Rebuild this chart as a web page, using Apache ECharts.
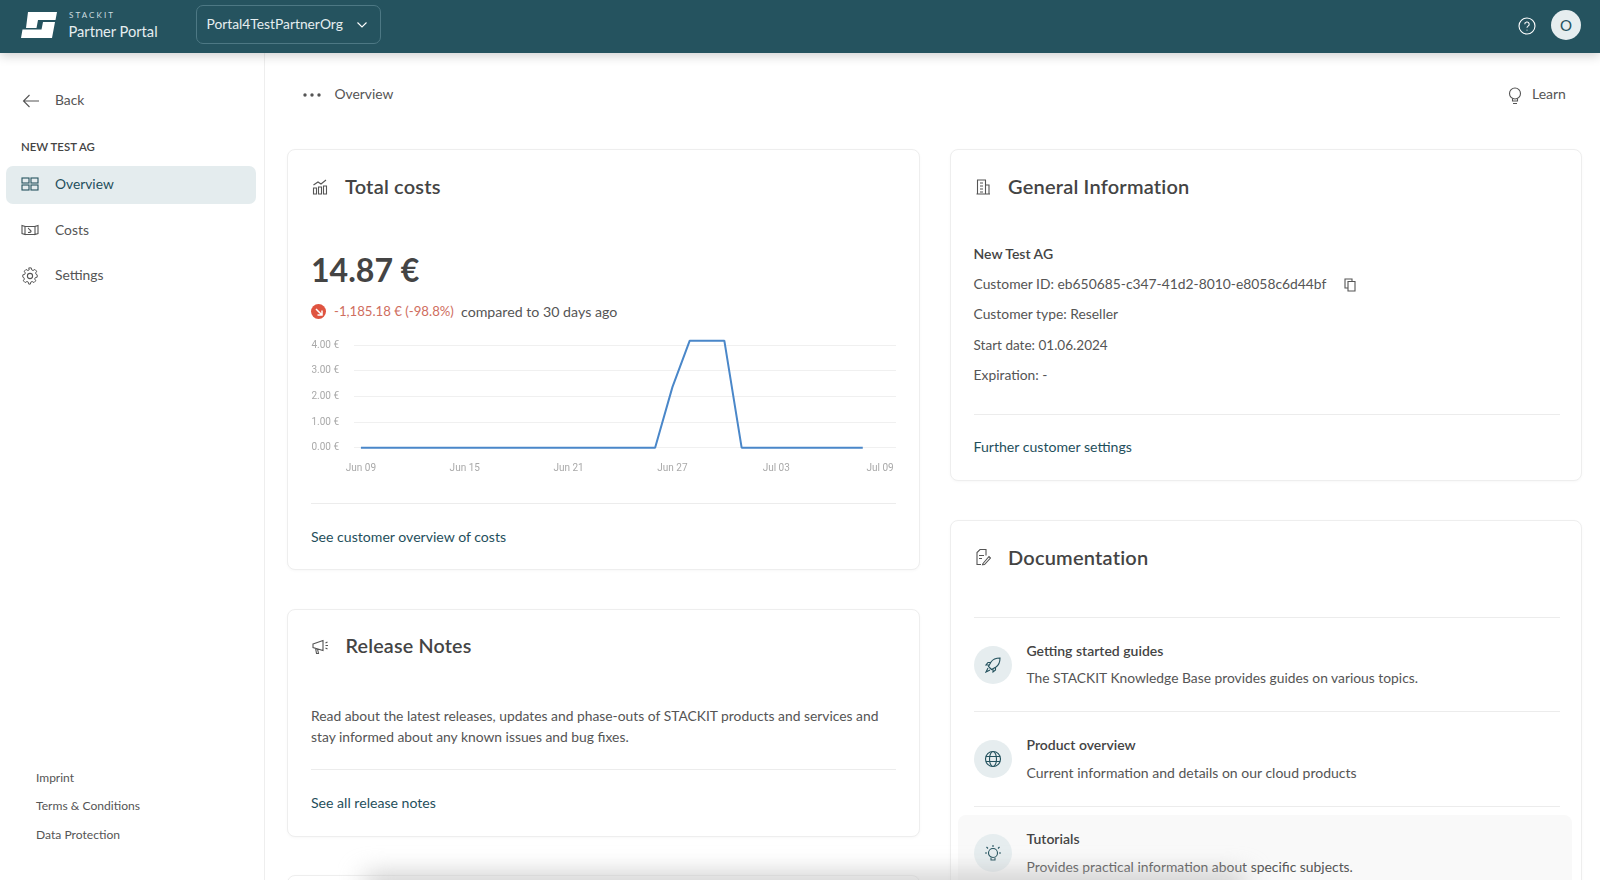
<!DOCTYPE html>
<html>
<head>
<meta charset="utf-8">
<title>Partner Portal</title>
<script src="https://cdn.jsdelivr.net/npm/echarts@6/dist/echarts.min.js"></script>
<style>
html, body { margin: 0; padding: 0; width: 1600px; height: 880px; overflow: hidden; background: #fff; }
body { font-family: Lato, "Noto Sans", sans-serif; color: #555; font-size: 13.85px; position: relative; }
.t { position: absolute; white-space: nowrap; transform: translateY(-50%); line-height: 1.2; }
.box { position: absolute; box-sizing: border-box; }
.card { position: absolute; box-sizing: border-box; background: #fff; border: 1px solid #eeeeee; border-radius: 8px; box-shadow: 0 1px 3px rgba(0,0,0,0.03); }
.title { font-size: 20px; font-weight: 600; color: #444; letter-spacing: 0.2px; }
.link { color: #1f4f5c; font-size: 14.1px; }
.b { font-weight: 600; color: #444; font-size: 14px; }
.rule { position: absolute; height: 1px; background: #ececec; }
.ico { position: absolute; transform: translate(-50%, -50%); fill: none; stroke: #555; stroke-width: 1.1; }
.circ { position: absolute; width: 38px; height: 38px; border-radius: 50%; background: #e6edef; transform: translate(-50%, -50%); }
#chart { position: absolute; left: 291px; top: 326px; width: 630px; height: 165px; }
</style>
</head>
<body>

<div class="box" style="left:0;top:0;width:1600px;height:53px;background:#25535f;box-shadow:0 3px 10px rgba(0,0,0,0.18);z-index:3"></div>
<div style="position:absolute;left:0;top:0;width:1600px;height:53px;z-index:4;color:#fff">
  <svg style="position:absolute;left:0;top:0" width="64" height="50" viewBox="0 0 64 50"><path fill="#fff" d="M28 12H57L55.500 20H38L36.500 28H26ZM43 22H55L52 38H21L22.500 29.500H41.500Z"/></svg>
  <div class="t" style="left:69px;top:16px;font-size:8px;letter-spacing:2.1px;color:#cfdde0">STACKIT</div>
  <div class="t" style="left:68.500px;top:32px;font-size:14.650px;color:#e6eef0">Partner Portal</div>
  <div class="box" style="left:196px;top:5px;width:185px;height:39px;border:1px solid #4d7884;border-radius:7px"></div>
  <div class="t" style="left:206.500px;top:24px;font-size:13.800px;color:#e6eef0">Portal4TestPartnerOrg</div>
  <svg class="ico" style="left:362px;top:25px;stroke:#fff" width="12" height="8" viewBox="0 0 12 8"><path d="M1.500 1.500L6 6L10.500 1.500"/></svg>
  <svg class="ico" style="left:1527px;top:26px;stroke:#fff" width="18" height="18" viewBox="0 0 18 18"><circle cx="9" cy="9" r="8"/><path d="M6.800 7.200a2.200 2.200 0 1 1 3.300 1.900c-.8.5-1.100.9-1.100 1.700"/><path d="M9 12.800v.8"/></svg>
  <div style="position:absolute;left:1551px;top:10px;width:30px;height:30px;border-radius:50%;background:#e6edef"></div>
  <div class="t" style="left:1566px;top:24.500px;transform:translate(-50%,-50%);font-size:15px;color:#25535f">O</div>
</div>

<!-- sidebar -->
<div class="box" style="left:264px;top:53px;width:1px;height:827px;background:#eeeeee"></div>
<svg class="ico" style="left:31px;top:100.500px" width="18" height="14" viewBox="0 0 18 14"><path d="M17 7H1.500M7.500 1L1.500 7L7.500 13"/></svg>
<div class="t" style="left:55px;top:100px">Back</div>
<div class="t" style="left:21px;top:147px;font-size:11.400px;font-weight:600;color:#444">NEW TEST AG</div>
<div class="box" style="left:5.500px;top:165.500px;width:250.500px;height:38px;background:#e4ecee;border-radius:7px"></div>
<svg class="ico" style="left:30px;top:184px;stroke:#25535f" width="18" height="14" viewBox="0 0 18 14"><rect x="1" y="1" width="7" height="5"/><rect x="10" y="1" width="7" height="5"/><rect x="1" y="8" width="7" height="5"/><rect x="10" y="8" width="7" height="5"/></svg>
<div class="t link" style="left:55px;top:184px;font-size:13.800px">Overview</div>
<svg class="ico" style="left:30px;top:230px" width="18" height="12" viewBox="0 0 18 12"><path d="M1 1.500l3 1v8l-3-1zM17 1.500l-3 1v8l3-1zM4 2.500h10v8H4zM7 8.500c3 0 4-1 2-2.500s-1-2-2-1.500"/></svg>
<div class="t" style="left:55px;top:229.500px">Costs</div>
<svg class="ico" style="left:30px;top:275.500px" width="18" height="18" viewBox="0 0 18 18"><circle cx="9" cy="9" r="2.600"/><path d="M7.600 1h2.800l.5 2.200 1.500.7 2-1.200 2 2-1.200 2 .7 1.500L17 8.700v2.600l-2.100.5-.7 1.500 1.200 2-2 2-2-1.200-1.500.7-.5 2.200H7.600l-.5-2.200-1.500-.7-2 1.200-2-2 1.200-2-.7-1.500L1 11.300V8.700l2.100-.5.7-1.500-1.200-2 2-2 2 1.200 1.500-.7z" transform="translate(0.900 0.900) scale(0.9 0.9) translate(0 -1)"/></svg>
<div class="t" style="left:55px;top:275px">Settings</div>
<div class="t" style="left:36px;top:777.500px;font-size:12px">Imprint</div>
<div class="t" style="left:36px;top:806px;font-size:12.100px">Terms &amp; Conditions</div>
<div class="t" style="left:36px;top:835px;font-size:12.100px">Data Protection</div>

<!-- breadcrumb -->
<svg class="ico" style="left:312px;top:95px;fill:#555;stroke:none" width="18" height="4" viewBox="0 0 18 4"><circle cx="2" cy="2" r="1.700"/><circle cx="9" cy="2" r="1.700"/><circle cx="16" cy="2" r="1.700"/></svg>
<div class="t" style="left:334.500px;top:94px">Overview</div>
<svg class="ico" style="left:1515px;top:96px" width="14" height="18" viewBox="0 0 14 18"><circle cx="7" cy="6.500" r="5.500"/><path d="M4.500 11.500v2.500h5v-2.500M5 16.500h4"/></svg>
<div class="t" style="left:1532px;top:94px;font-size:14px">Learn</div>

<!-- total costs -->
<div class="card" style="left:287px;top:149px;width:633px;height:421px"></div>
<svg class="ico" style="left:320px;top:187px" width="16" height="16" viewBox="0 0 16 16" stroke-width="1.100"><path d="M1.500 15h3V9h-3zM6.500 15h3V8h-3zM11.500 15h3V7h-3zM1.500 6L6 3l3 2L14 1"/></svg>
<div class="t title" style="left:345px;top:186px">Total costs</div>
<div class="t" style="left:311px;top:270px;font-size:32.100px;font-weight:700;color:#444">14.87 €</div>
<div style="position:absolute;left:311px;top:304px;width:15px;height:15px;border-radius:50%;background:#df5440"></div>
<svg class="ico" style="left:318.500px;top:311.500px;stroke:#fff;stroke-width:1.500" width="8" height="8" viewBox="0 0 8 8"><path d="M1 1L7 7M7 2.500V7H2.500"/></svg>
<div class="t" style="left:334px;top:312px;font-size:13.200px;color:#cf6e60">-1,185.18 € (-98.8%)</div>
<div class="t" style="left:461px;top:312px;font-size:14.200px">compared to 30 days ago</div>
<div id="chart"></div>
<div class="rule" style="left:311px;top:503px;width:585px"></div>
<div class="t link" style="left:311px;top:536.500px">See customer overview of costs</div>

<!-- release notes -->
<div class="card" style="left:287px;top:609px;width:633px;height:228px"></div>
<svg class="ico" style="left:320.500px;top:647px" width="18" height="15" viewBox="0 0 18 15"><path d="M1 4.500L11 1v10L1 8zM3.500 8.500L4.500 14h2L5.500 9.500M13.500 3.500l2-1M13.500 6h2.500M13.500 8.500l2 1"/></svg>
<div class="t title" style="left:345.500px;top:646px;font-size:19.700px">Release Notes</div>
<div class="t" style="left:311px;top:716px">Read about the latest releases, updates and phase-outs of STACKIT products and services and</div>
<div class="t" style="left:311px;top:737px">stay informed about any known issues and bug fixes.</div>
<div class="rule" style="left:311px;top:769px;width:585px"></div>
<div class="t link" style="left:311px;top:803px">See all release notes</div>

<!-- next card, cut off by the window -->
<div class="card" style="left:287px;top:875px;width:633px;height:100px"></div>

<!-- general information -->
<div class="card" style="left:950px;top:149px;width:632px;height:332px"></div>
<svg class="ico" style="left:983px;top:187px" width="15" height="16" viewBox="0 0 15 16" stroke-width="1.100"><path d="M2 15V1h8v14M10 6h3.500v9M1 15h13.500M4.500 4h3M4.500 7h3M4.500 10h3M4.500 13h3"/></svg>
<div class="t title" style="left:1008px;top:186px">General Information</div>
<div class="t b" style="left:973.500px;top:254px">New Test AG</div>
<div class="t" style="left:973.500px;top:284px">Customer ID: eb650685-c347-41d2-8010-e8058c6d44bf</div>
<svg class="ico" style="left:1350px;top:284.500px" width="12" height="14" viewBox="0 0 12 14"><path d="M8 3V1H1v9h3M4 3.500h7V13H4z"/></svg>
<div class="t" style="left:973.500px;top:314px">Customer type: Reseller</div>
<div class="t" style="left:973.500px;top:345px;font-size:13.550px">Start date: 01.06.2024</div>
<div class="t" style="left:973.500px;top:375px">Expiration: -</div>
<div class="rule" style="left:973.500px;top:414px;width:586px"></div>
<div class="t link" style="left:973.500px;top:447px">Further customer settings</div>

<!-- documentation -->
<div class="card" style="left:950px;top:520px;width:632px;height:400px"></div>
<svg class="ico" style="left:983px;top:557px" width="16" height="17" viewBox="0 0 16 17" stroke-width="1.100"><path d="M6 16H2V4l3-3h6v6M4 7h5M4 10h3M8 15l6-7 1.500 1.500-6 6.500-2 .5z"/></svg>
<div class="t title" style="left:1008px;top:557px">Documentation</div>
<div class="rule" style="left:973.500px;top:617px;width:586px"></div>
<div class="circ" style="left:993px;top:664.500px"></div>
<svg class="ico" style="left:993px;top:664.500px;stroke:#25535f" width="16" height="16" viewBox="0 0 16 16"><path d="M5 11L3.500 9.500 6 5c2-3 5-4 9-4 0 4-1 7-4 9l-4.500 2.500zM6 5.500H3L1 8h3M10.500 10v3L8 15v-3M3 11l-2 4 4-2"/></svg>
<div class="t b" style="left:1026.500px;top:650.500px">Getting started guides</div>
<div class="t" style="left:1026.500px;top:678px;font-size:13.820px">The STACKIT Knowledge Base provides guides on various topics.</div>
<div class="rule" style="left:973.500px;top:711px;width:586px"></div>
<div class="circ" style="left:993px;top:758.500px"></div>
<svg class="ico" style="left:993px;top:758.500px;stroke:#25535f" width="17" height="17" viewBox="0 0 17 17"><circle cx="8.500" cy="8.500" r="7.500"/><ellipse cx="8.500" cy="8.500" rx="3.500" ry="7.500"/><path d="M1.500 6h14M1.500 11h14"/></svg>
<div class="t b" style="left:1026.500px;top:745px">Product overview</div>
<div class="t" style="left:1026.500px;top:772.500px;font-size:14px">Current information and details on our cloud products</div>
<div class="rule" style="left:973.500px;top:806px;width:586px"></div>
<div class="box" style="left:958px;top:815px;width:614px;height:80px;background:#f9f9f9;border-radius:8px"></div>
<div class="circ" style="left:993px;top:853px"></div>
<svg class="ico" style="left:993px;top:853px;stroke:#25535f" width="17" height="18" viewBox="0 0 17 18"><circle cx="8.500" cy="9" r="4.500"/><path d="M6.500 13.500v2.500h4v-2.500M8.500 1v2M2 3l1.500 1.500M15 3l-1.500 1.500M.5 9h2M14.500 9h2"/></svg>
<div class="t b" style="left:1026.500px;top:839px">Tutorials</div>
<div class="t" style="left:1026.500px;top:866.500px;font-size:13.880px">Provides practical information about specific subjects.</div>

<!-- soft shadow rising from the bottom edge -->
<div style="position:absolute;left:365px;top:876px;width:880px;height:18px;background:#bdbdbd;filter:blur(13px)"></div>

<script>
// daily costs from Jun 09 to Jul 08, sum is the 14.87 in the headline
const costs = [
  0, 0, 0, 0, 0, 0, 0, 0, 0, 0,
  0, 0, 0, 0, 0, 0, 0, 0, 2.36, 4.17,
  4.17, 4.17, 0, 0, 0, 0, 0, 0, 0, 0
];
const tickDays = [0, 6, 12, 18, 24, 30];
const tickLabels = ['Jun 09', 'Jun 15', 'Jun 21', 'Jun 27', 'Jul 03', 'Jul 09'];

const chart = echarts.init(document.getElementById('chart'));
chart.setOption({
  animation: false,
  grid: { left: 63, right: 25, top: 19, height: 102.7 },
  xAxis: {
    type: 'value',
    min: -0.4,
    max: 30.92,
    splitLine: { show: false },
    axisLine: { show: false },
    axisTick: { show: false },
    axisLabel: {
      customValues: tickDays,
      formatter: (v) => tickLabels[tickDays.indexOf(v)],
      color: '#a9a9a9',
      fontFamily: 'Roboto',
      fontSize: 10,
      margin: 16
    }
  },
  yAxis: {
    type: 'value',
    min: 0,
    max: 4,
    interval: 1,
    splitLine: { lineStyle: { color: '#f0f0f0', width: 1 } },
    axisLine: { show: false },
    axisTick: { show: false },
    axisLabel: {
      formatter: (v) => v.toFixed(2) + ' €',
      color: '#a9a9a9',
      fontFamily: 'Roboto',
      fontSize: 10,
      margin: 15,
      padding: [2, 0, 0, 0]
    }
  },
  series: [{
    type: 'line',
    data: costs.map((v, i) => [i, v]),
    symbol: 'none',
    clip: false,
    lineStyle: { color: '#4a87c9', width: 2 }
  }]
});
</script>
</body>
</html>
